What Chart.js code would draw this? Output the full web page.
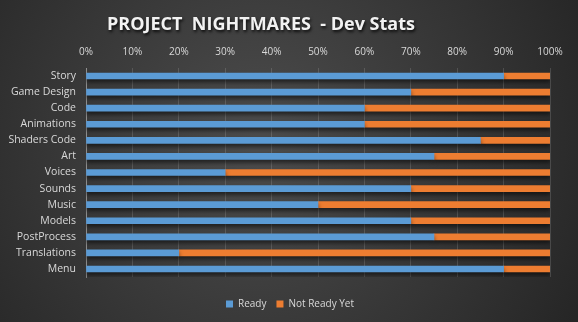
<!DOCTYPE html>
<html><head><meta charset="utf-8">
<script src="https://cdn.jsdelivr.net/npm/chart.js@4/dist/chart.umd.min.js"></script>
<style>html,body{margin:0;padding:0;background:#333;}#wrap{width:578px;height:322px;position:relative;}</style>
</head><body><div id="wrap"><canvas id="c"></canvas></div>
<script>
const chartTitle = "PROJECT  NIGHTMARES  - Dev Stats";
const categories = ["Story","Game Design","Code","Animations","Shaders Code","Art","Voices","Sounds","Music","Models","PostProcess","Translations","Menu"];
const ready = [0.90,0.70,0.60,0.60,0.85,0.75,0.30,0.70,0.50,0.70,0.75,0.20,0.90];
const notReady = [0.10,0.30,0.40,0.40,0.15,0.25,0.70,0.30,0.50,0.30,0.25,0.80,0.10];
const seriesNames = ["Ready","Not Ready Yet"];
const tickValues = [0,0.1,0.2,0.3,0.4,0.5,0.6,0.7,0.8,0.9,1.0];

const bgPlugin = {
  id:'bg',
  afterLayout(chart){
    const l = chart.legend;
    if (l) { l.left += 12; l.right += 12; }
  },
  beforeDraw(chart){
    const {ctx,width,height} = chart;
    ctx.save();
    const g = ctx.createRadialGradient(width*0.45,height*0.45,10,width*0.45,height*0.45,width*0.62);
    g.addColorStop(0,'#4c4c4c');
    g.addColorStop(1,'#262626');
    ctx.fillStyle = g;
    ctx.fillRect(0,0,width,height);
    ctx.restore();
  },
  beforeDatasetsDraw(chart){
    const ctx = chart.ctx;
    ctx.save();
    ctx.shadowColor = 'rgba(0,0,0,0.55)';
    ctx.shadowBlur = 4;
    ctx.shadowOffsetY = 3;
  },
  afterDatasetsDraw(chart){ chart.ctx.restore(); },
  afterDraw(chart){
    const ctx = chart.ctx;
    ctx.save();
    ctx.font = 'bold 18px "Open Sans"';
    ctx.textAlign = 'center';
    ctx.textBaseline = 'alphabetic';
    ctx.shadowColor = 'rgba(0,0,0,0.8)';
    ctx.shadowBlur = 3;
    ctx.shadowOffsetX = 1;
    ctx.shadowOffsetY = 2;
    ctx.fillStyle = '#f2f2f2';
    ctx.fillText(chartTitle, 261, 30);
    ctx.restore();
  }
};

new Chart(document.getElementById('c'), {
  type:'bar',
  data:{
    labels:categories,
    datasets:[
      {label:seriesNames[0],data:ready,backgroundColor:'#5b9bd5',barThickness:6},
      {label:seriesNames[1],data:notReady,backgroundColor:'#ed7d31',barThickness:6}
    ]
  },
  plugins:[bgPlugin],
  options:{
    indexAxis:'y',
    responsive:true,
    maintainAspectRatio:false,
    animation:false,
    layout:{padding:{left:6,right:28,top:36,bottom:3}},
    scales:{
      x:{
        position:'top',stacked:true,min:0,max:1,
        afterBuildTicks(axis){ axis.ticks = tickValues.map(v=>({value:v})); },
        ticks:{color:'#d9d9d9',font:{family:'Open Sans',size:10},padding:10,
          callback:(v)=>Math.round(v*100)+'%'},
        grid:{color:'rgba(255,255,255,0.14)',drawTicks:false},
        border:{display:false}
      },
      spacer:{
        type:'linear',position:'bottom',axis:'x',display:true,
        ticks:{display:false},grid:{display:false,drawTicks:false},border:{display:false},
        afterFit(axis){ axis.height = 12; }
      },
      y:{
        stacked:true,
        afterFit(axis){ axis.width = 80; },
        ticks:{color:'#d9d9d9',font:{family:'Open Sans',size:10.5},padding:10,autoSkip:false},
        grid:{display:false,drawTicks:false},
        border:{display:true,color:'rgba(255,255,255,0.35)'}
      }
    },
    plugins:{
      title:{display:false},
      legend:{position:'bottom',labels:{color:'#d9d9d9',boxWidth:7,boxHeight:7,padding:10,font:{family:'Open Sans',size:10}}},
      tooltip:{enabled:false}
    }
  }
});
</script></body></html>
